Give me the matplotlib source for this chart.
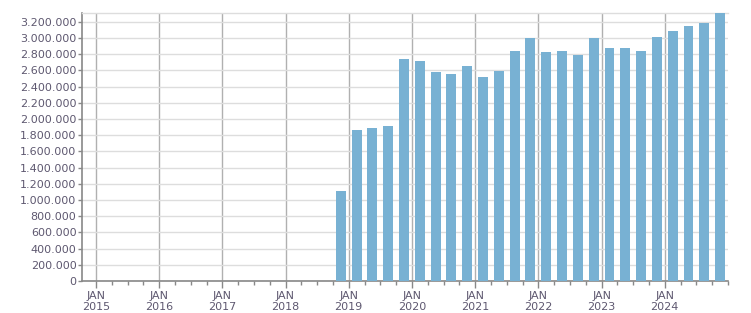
import matplotlib
matplotlib.use("Agg")
import matplotlib.pyplot as plt
from matplotlib.ticker import FuncFormatter, MultipleLocator, FixedLocator

# Data: quarterly values
years = [2018, 2019, 2019, 2019, 2019, 2020, 2020, 2020, 2020, 2021, 2021, 2021, 2021,
         2022, 2022, 2022, 2022, 2023, 2023, 2023, 2023, 2024, 2024, 2024, 2024]
quarters = [4, 1, 2, 3, 4, 1, 2, 3, 4, 1, 2, 3, 4,
            1, 2, 3, 4, 1, 2, 3, 4, 1, 2, 3, 4]
values = [1108000, 1865000, 1890000, 1914000, 2746000, 2721000, 2585000, 2560000, 2659000,
          2522000, 2597000, 2845000, 3006000, 2832000, 2845000, 2795000, 3006000,
          2882000, 2882000, 2845000, 3018000, 3093000, 3155000, 3192000, 3304000]
tick_years = [2015, 2016, 2017, 2018, 2019, 2020, 2021, 2022, 2023, 2024]

x = [y + (q - 0.5) / 4 for y, q in zip(years, quarters)]

fig = plt.figure(figsize=(7.51, 3.13), dpi=100)
ax = fig.add_axes([82 / 751, 1 - 281 / 313, (728 - 82) / 751, (281 - 13) / 313])

ax.bar(x, values, width=0.25 * 0.63, color="#78b1d3", zorder=3)

ax.set_xlim(2014.78, 2025.0)
ax.set_ylim(0, 3310000)

ax.yaxis.set_major_locator(MultipleLocator(200000))
ax.yaxis.set_major_formatter(FuncFormatter(lambda v, p: f"{int(v):,}".replace(",", ".")))
ax.xaxis.set_major_locator(FixedLocator(tick_years))
ax.xaxis.set_minor_locator(MultipleLocator(0.25))
ax.set_xticklabels([f"JAN\n{y}" for y in tick_years])

lab_col = "#5e5870"
ax.tick_params(axis="y", labelsize=8, colors="#888888", labelcolor=lab_col, length=3, width=1, pad=1)
ax.tick_params(axis="x", which="major", labelsize=8, colors="#888888", labelcolor=lab_col,
               length=5, width=1, pad=2)
ax.tick_params(axis="x", which="minor", colors="#888888", length=3, width=1)

ax.grid(axis="y", color="#dddddd", linewidth=1, zorder=0)
ax.grid(axis="x", which="major", color="#b0b0b0", linewidth=1, zorder=1)

for s in ["left", "bottom"]:
    ax.spines[s].set_color("#888888")
    ax.spines[s].set_linewidth(1.2)
ax.spines["right"].set_visible(False)
ax.spines["top"].set_color("#dddddd")
ax.spines["top"].set_linewidth(1)

fig.savefig("out.png", dpi=100)
